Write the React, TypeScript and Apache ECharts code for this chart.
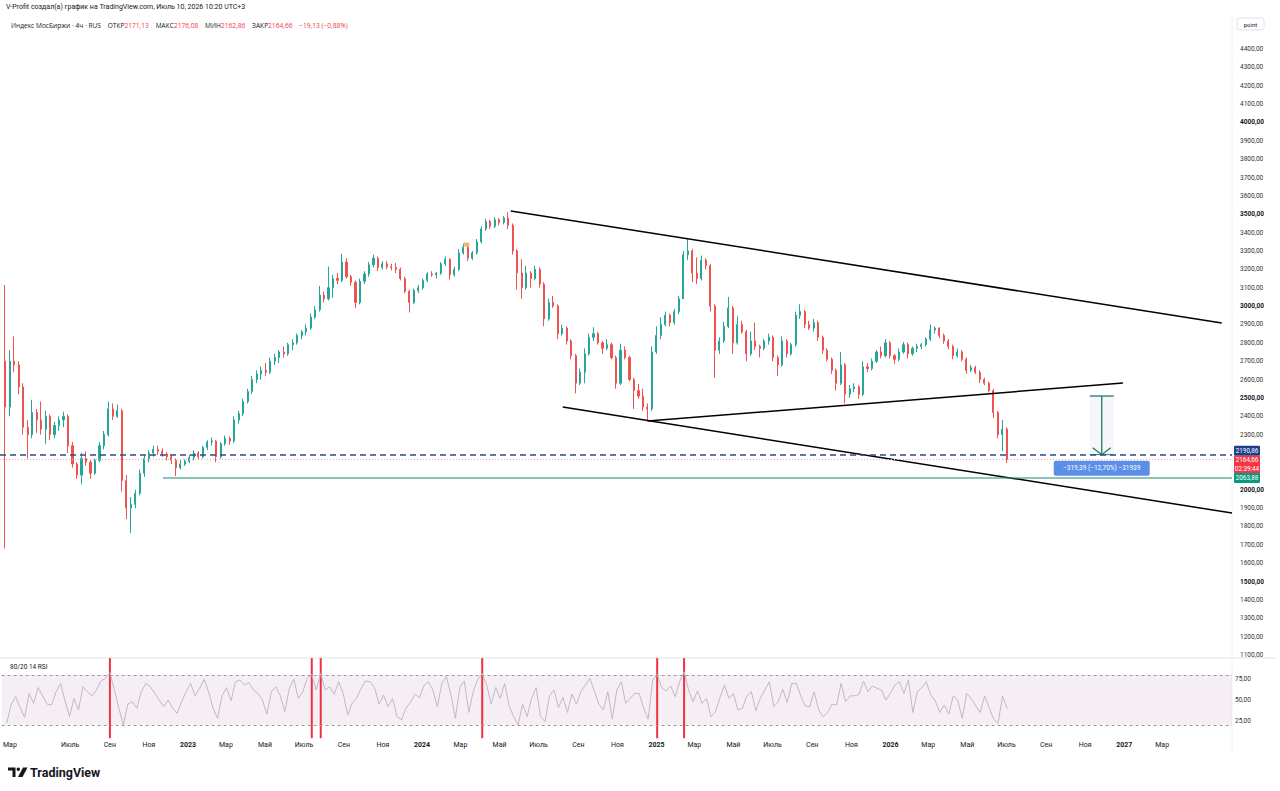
import React, { useEffect, useRef } from 'react';
import * as echarts from 'echarts';

// ---------- DATA ----------
const FIRST_WEEK = '2022-03-24';
// weekly candles: [open, high, low, close]
const CANDLES: number[][] = [
  [2700,3115,1680,2450],[2450,2760,2400,2700],[2700,2835,2640,2680],[2680,2700,2520,2560],[2560,2580,2300,2340],
  [2340,2380,2170,2300],[2300,2490,2280,2420],[2420,2440,2310,2380],[2380,2480,2300,2330],[2330,2430,2250,2400],
  [2400,2410,2270,2300],[2300,2370,2280,2350],[2350,2400,2320,2380],[2380,2425,2340,2400],[2400,2410,2200,2240],
  [2240,2260,2120,2140],[2140,2150,2060,2080],[2080,2200,2030,2170],[2170,2210,2130,2150],[2150,2160,2060,2090],
  [2090,2170,2080,2160],[2160,2260,2150,2240],[2240,2320,2220,2300],[2300,2480,2290,2440],[2440,2470,2380,2400],
  [2400,2465,2390,2430],[2430,2440,1990,2050],[2050,2080,1840,1900],[1900,1960,1765,1920],[1920,2000,1900,1980],
  [1980,2110,1970,2090],[2090,2185,2070,2170],[2170,2215,2150,2200],[2200,2240,2180,2220],[2220,2240,2190,2210],
  [2210,2225,2180,2195],[2195,2205,2160,2180],[2180,2190,2140,2160],[2160,2170,2075,2120],[2120,2160,2110,2140],
  [2140,2165,2130,2155],[2155,2190,2145,2175],[2175,2215,2160,2200],[2200,2210,2165,2180],[2180,2240,2170,2230],
  [2230,2270,2215,2260],[2260,2285,2240,2265],[2265,2270,2150,2180],[2180,2260,2170,2250],[2250,2295,2240,2280],
  [2280,2290,2245,2265],[2265,2400,2255,2380],[2380,2430,2360,2415],[2415,2495,2400,2480],[2480,2550,2470,2535],
  [2535,2620,2520,2600],[2600,2650,2580,2630],[2630,2670,2600,2650],[2650,2690,2620,2640],[2640,2720,2630,2700],
  [2700,2740,2680,2720],[2720,2760,2690,2750],[2750,2780,2720,2740],[2740,2800,2730,2790],[2790,2820,2760,2800],
  [2800,2850,2790,2840],[2840,2870,2820,2860],[2860,2900,2840,2880],[2880,2960,2870,2940],[2940,3000,2930,2980],
  [2980,3110,2970,3060],[3060,3080,3020,3040],[3040,3215,3030,3100],[3100,3170,3045,3150],[3150,3180,3120,3140],
  [3140,3285,3130,3240],[3240,3260,3150,3160],[3160,3170,3110,3130],[3130,3140,2990,3020],[3020,3150,3010,3135],
  [3135,3190,3120,3175],[3175,3240,3160,3225],[3225,3280,3210,3260],[3260,3270,3190,3210],[3210,3245,3200,3230],
  [3230,3245,3200,3215],[3215,3230,3195,3210],[3210,3235,3180,3200],[3200,3210,3140,3150],[3150,3160,3070,3080],
  [3080,3090,2965,3020],[3020,3095,3010,3085],[3085,3115,3070,3100],[3100,3150,3090,3140],[3140,3185,3130,3175],
  [3175,3190,3160,3170],[3170,3185,3150,3180],[3180,3240,3170,3230],[3230,3270,3220,3255],[3255,3260,3145,3170],
  [3170,3215,3160,3200],[3200,3310,3190,3290],[3290,3340,3280,3320],[3320,3330,3245,3260],[3260,3300,3250,3290],
  [3290,3365,3280,3350],[3350,3435,3340,3420],[3420,3475,3410,3460],[3460,3470,3420,3435],[3435,3485,3425,3470],
  [3470,3480,3440,3455],[3455,3490,3445,3480],[3480,3512,3420,3440],[3440,3450,3280,3300],[3300,3310,3090,3180],
  [3180,3255,3040,3100],[3100,3220,3090,3180],[3180,3190,3100,3150],[3150,3220,3140,3200],[3200,3210,3100,3120],
  [3120,3130,2890,2930],[2930,3040,2920,3020],[3020,3055,2990,3000],[3000,3010,2820,2850],[2850,2900,2840,2880],
  [2880,2890,2790,2810],[2810,2820,2710,2730],[2730,2740,2525,2580],[2580,2660,2570,2640],[2640,2770,2580,2740],
  [2740,2850,2730,2830],[2830,2885,2810,2850],[2850,2860,2790,2800],[2800,2810,2740,2770],[2770,2820,2760,2790],
  [2790,2800,2710,2720],[2720,2730,2550,2580],[2580,2795,2570,2760],[2760,2780,2710,2720],[2720,2730,2590,2600],
  [2600,2610,2440,2540],[2540,2575,2495,2510],[2510,2550,2430,2450],[2450,2470,2375,2440],[2440,2780,2430,2750],
  [2750,2890,2740,2840],[2840,2940,2820,2900],[2900,2970,2890,2950],[2950,2960,2890,2910],[2910,2985,2900,2970],
  [2970,3055,2955,3040],[3040,3300,3040,3280],[3280,3365,3250,3300],[3300,3310,3130,3180],[3180,3265,3120,3150],
  [3150,3275,3140,3250],[3250,3260,3200,3220],[3220,3230,2970,3000],[3000,3010,2610,2760],[2760,2830,2740,2810],
  [2810,2915,2800,2890],[2890,3050,2880,2990],[2990,3000,2740,2800],[2800,2945,2790,2900],[2900,2920,2850,2860],
  [2860,2870,2700,2740],[2740,2860,2730,2810],[2810,2910,2760,2780],[2780,2790,2720,2770],[2770,2820,2760,2810],
  [2810,2850,2790,2830],[2830,2840,2700,2720],[2720,2730,2620,2680],[2680,2835,2670,2810],[2810,2820,2720,2740],
  [2740,2800,2730,2790],[2790,2970,2780,2950],[2950,3010,2930,2970],[2970,2980,2880,2900],[2900,2920,2870,2880],
  [2880,2930,2860,2910],[2910,2920,2810,2830],[2830,2840,2740,2760],[2760,2770,2700,2710],[2710,2720,2630,2650],
  [2650,2660,2540,2580],[2580,2750,2570,2680],[2680,2690,2470,2520],[2520,2570,2500,2550],[2550,2580,2530,2560],
  [2560,2570,2495,2520],[2520,2700,2510,2670],[2670,2690,2640,2660],[2660,2715,2650,2700],[2700,2760,2690,2750],
  [2750,2780,2715,2730],[2730,2820,2720,2800],[2800,2810,2715,2730],[2730,2740,2685,2710],[2710,2770,2700,2750],
  [2750,2805,2740,2790],[2790,2800,2715,2740],[2740,2780,2730,2770],[2770,2795,2750,2780],[2780,2800,2765,2790],
  [2790,2830,2780,2820],[2820,2900,2810,2870],[2870,2890,2850,2880],[2880,2885,2825,2840],[2840,2850,2795,2810],
  [2810,2820,2765,2780],[2780,2790,2710,2730],[2730,2770,2720,2750],[2750,2760,2700,2710],[2710,2720,2630,2650],
  [2650,2680,2640,2665],[2665,2675,2630,2640],[2640,2650,2580,2600],[2600,2610,2570,2580],[2580,2590,2530,2540],
  [2540,2550,2390,2420],[2420,2430,2280,2300],[2300,2380,2210,2330],[2330,2340,2145,2164.66],
];
const RSI: number[] = [
  22,45,54,41,29,58,46,65,55,45, 44,60,70,49,30,52,38,66,60,55,
  62,73,76,83,62,40,20,45,48,40, 60,70,66,58,50,42,50,40,34,48,
  60,70,55,64,75,60,40,28,55,65, 49,72,74,68,71,62,58,50,33,60,
  66,55,36,64,75,52,60,76,81,62, 82,62,66,57,72,58,32,46,52,64,
  73,72,65,45,56,42,52,30,26,40, 47,57,53,67,72,62,42,70,78,57,
  28,65,73,35,60,75,82,68,45,65, 52,70,43,30,20,45,30,52,65,30,
  24,55,62,41,53,35,57,45,60,68, 76,61,45,38,60,27,62,72,46,52,
  58,58,40,27,74,81,65,61,67,54, 72,84,62,48,61,46,52,30,36,53,
  68,52,58,38,40,55,60,37,52,62, 72,42,48,63,47,70,70,55,43,42,
  60,38,30,35,45,44,70,48,55,55, 57,73,60,67,64,62,50,58,68,72,
  58,74,35,60,65,72,56,49,35,44, 33,55,50,28,58,52,43,35,55,41,
  27,22,55,40,
];
const X_START = '2022-03-16';
const X_END = '2027-06-18';
const PRICE_MIN = 1000;
const PRICE_MAX = 4600;
const PRICE_LABEL_RANGE = [1100, 4400];
const RSI_LABELS = [25, 50, 75];
const RSI_BAND = [20, 80];
const X_LABELS: [string, string][] = [
  ['2022-03-29','Мар'],['2022-07-01','Июль'],['2022-09-01','Сен'],['2022-11-01','Ноя'],
  ['2023-01-01','2023'],['2023-03-01','Мар'],['2023-05-01','Май'],['2023-07-01','Июль'],['2023-09-01','Сен'],['2023-11-01','Ноя'],
  ['2024-01-01','2024'],['2024-03-01','Мар'],['2024-05-01','Май'],['2024-07-01','Июль'],['2024-09-01','Сен'],['2024-11-01','Ноя'],
  ['2025-01-01','2025'],['2025-03-01','Мар'],['2025-05-01','Май'],['2025-07-01','Июль'],['2025-09-01','Сен'],['2025-11-01','Ноя'],
  ['2026-01-01','2026'],['2026-03-01','Мар'],['2026-05-01','Май'],['2026-07-01','Июль'],['2026-09-01','Сен'],['2026-11-01','Ноя'],
  ['2027-01-01','2027'],['2027-03-01','Мар'],
];
const TREND_LINES: [string, number][][] = [
  [['2024-05-20', 3518], ['2027-06-02', 2908]],
  [['2024-08-09', 2450], ['2027-06-18', 1873]],
  [['2024-12-19', 2374], ['2026-12-30', 2581]],
];
const DASHED_LEVEL = 2190.86;
const LAST_PRICE = 2164.66;
const GREEN_LEVEL = 2063.88;
const GREEN_START = '2022-11-25';
const RANGE_DATE = '2026-11-27';
const RANGE_TOP = 2510.25;
const RANGE_LABEL = '−319,39 (−12,70%) −31939';
const MARKER: [string, number] = ['2024-03-12', 3335];
const TIMER = '02:39:44';
const HEADER_1 = 'V-Profit создал(а) график на TradingView.com, Июль 10, 2026 10:20 UTC+3';
const SYMBOL = 'Индекс МосБиржи · 4ч · RUS';
const OHLC: [string, string][] = [['ОТКР', '2171,13'], ['МАКС', '2176,08'], ['МИН', '2162,86'], ['ЗАКР', '2164,66']];
const CHANGE = '−19,13 (−0,88%)';

// ---------- STYLE ----------
const UP = '#26a69a';
const DOWN = '#ef5350';
const FONT = 'Roboto, "Noto Sans", sans-serif';
const HEAD_FONT = '"Open Sans", Roboto, sans-serif';
const HEAD_SIZE = 6.6;
const TXT = '#131722';

const DAY = 86400000;
const ts = (d: string) => Date.parse(d + 'T00:00:00Z');
const fmt = (v: number) => v.toFixed(2).replace('.', ',');
const TAG_LEVELS = [DASHED_LEVEL, LAST_PRICE, GREEN_LEVEL];

export default function App() {
  const ref = useRef<HTMLDivElement>(null);
  useEffect(() => {
    if (!ref.current) return;
    const chart = echarts.init(ref.current, undefined, { renderer: 'svg' });
    const t0 = ts(FIRST_WEEK);
    const dates = CANDLES.map((_, i) => t0 + i * 7 * DAY);
    const xMin = ts(X_START);
    const xMax = ts(X_END);
    const labelMap = new Map(X_LABELS.map(([d, l]) => [ts(d), l]));

    const option: any = {
      animation: false,
      backgroundColor: '#ffffff',
      textStyle: { fontFamily: FONT },
      grid: [
        { left: 0, right: 48, top: 12.27, height: 661.09 },
        { left: 0, right: 48, top: 658.1, height: 80.1 },
      ],
      xAxis: [
        { type: 'value', gridIndex: 0, min: xMin, max: xMax, show: false },
        {
          type: 'value', gridIndex: 1, min: xMin, max: xMax,
          axisLine: { show: false }, axisTick: { show: false }, splitLine: { show: false },
          axisLabel: {
            customValues: X_LABELS.map(([d]) => ts(d)),
            margin: 3, fontSize: 7, color: TXT, fontFamily: FONT,
            formatter: (v: number) => {
              const l = labelMap.get(v) || '';
              return /^\d{4}$/.test(l) ? '{y|' + l + '}' : l;
            },
            rich: { y: { fontSize: 7, fontWeight: 'bold', color: TXT, fontFamily: FONT } },
          },
        },
      ],
      yAxis: [
        {
          type: 'value', gridIndex: 0, position: 'right', min: PRICE_MIN, max: PRICE_MAX, interval: 100,
          axisLine: { show: false }, axisTick: { show: false }, splitLine: { show: false },
          axisLabel: {
            margin: 8, fontSize: 6.5, color: '#333', fontFamily: FONT,
            formatter: (v: number) => {
              if (v < PRICE_LABEL_RANGE[0] || v > PRICE_LABEL_RANGE[1]) return '';
              if (TAG_LEVELS.some((t) => Math.abs(t - v) < 50)) return '';
              return v % 500 === 0 ? '{b|' + fmt(v) + '}' : fmt(v);
            },
            rich: { b: { fontSize: 6.5, fontWeight: 'bold', color: TXT, fontFamily: FONT } },
          },
        },
        {
          type: 'value', gridIndex: 1, position: 'right', min: 4, max: 100.5,
          axisLine: { show: false }, axisTick: { show: false }, splitLine: { show: false },
          axisLabel: { customValues: RSI_LABELS, margin: 3, fontSize: 6.5, color: '#333', fontFamily: FONT, formatter: (v: number) => fmt(v) },
        },
      ],
      series: [
        {
          type: 'candlestick', xAxisIndex: 0, yAxisIndex: 0,
          data: CANDLES.map((c, i) => [dates[i], c[0], c[3], c[2], c[1]]),
          encode: { x: 0, y: [1, 2, 3, 4] },
          barWidth: 1.6,
          itemStyle: { color: UP, color0: DOWN, borderColor: UP, borderColor0: DOWN, borderWidth: 1 },
          markLine: {
            silent: true, symbol: 'none', label: { show: false },
            data: [
              { yAxis: DASHED_LEVEL, lineStyle: { color: '#2c4c8c', type: [6, 4], width: 1.5 } },
              { yAxis: LAST_PRICE, lineStyle: { color: '#f5a3a8', type: [1, 2], width: 1 } },
            ],
          },
        },
        ...TREND_LINES.map((tl) => ({
          type: 'line', xAxisIndex: 0, yAxisIndex: 0, symbol: 'none', silent: true,
          data: tl.map(([d, p]) => [ts(d), p]),
          lineStyle: { color: '#000000', width: 1.5 },
        })),
        {
          type: 'line', xAxisIndex: 0, yAxisIndex: 0, symbol: 'none', silent: true,
          data: [[ts(GREEN_START), GREEN_LEVEL], [xMax, GREEN_LEVEL]],
          lineStyle: { color: '#1a8a7a', width: 1.2 },
        },
        {
          type: 'scatter', xAxisIndex: 0, yAxisIndex: 0, silent: true,
          symbol: 'roundRect', symbolSize: [6, 4],
          data: [[ts(MARKER[0]), MARKER[1]]],
          itemStyle: { color: '#f5a142' },
        },
        {
          type: 'line', xAxisIndex: 1, yAxisIndex: 1, symbol: 'none', silent: true,
          data: RSI.map((v, i) => [dates[i], v]),
          lineStyle: { color: '#c2b7c8', width: 1 },
          markArea: {
            silent: true,
            itemStyle: { color: 'rgba(178, 120, 180, 0.13)' },
            data: [[{ yAxis: RSI_BAND[0] }, { yAxis: RSI_BAND[1] }]],
          },
          markLine: {
            silent: true, symbol: 'none', label: { show: false },
            lineStyle: { color: '#9a9a9a', type: [3, 3], width: 1 },
            data: [{ yAxis: RSI_BAND[1] }, { yAxis: RSI_BAND[0] }],
          },
        },
        {
          type: 'bar', xAxisIndex: 1, yAxisIndex: 1, silent: true, barWidth: 2,
          data: RSI.map((v, i) => [dates[i], v]).filter((p) => p[1] >= RSI_BAND[1]).map((p) => [p[0], 101]),
          itemStyle: { color: '#f0323f' },
        },
      ],
    };
    chart.setOption(option);

    const P = (x: number, y: number) => chart.convertToPixel({ seriesIndex: 0 }, [x, y]) as number[];
    const right = P(xMax, DASHED_LEVEL)[0];
    const yDash = P(xMax, DASHED_LEVEL)[1];
    const yGreen = P(xMax, GREEN_LEVEL)[1];
    const top = P(ts(RANGE_DATE), RANGE_TOP);
    const bot = P(ts(RANGE_DATE), DASHED_LEVEL);
    const cx = top[0];
    const tagX = right + 2;
    const tagW = 26;
    const smallText = (text: string, x: number, y: number, fill: string, extra: any = {}) => ({
      type: 'text', x, y, silent: true,
      style: { text, fill, fontSize: 6.3, fontFamily: FONT, align: 'center', verticalAlign: 'middle', ...extra },
    });
    const header2 =
      '{n|' + SYMBOL + '}    ' +
      OHLC.map(([l, v]) => '{n|' + l + '}{v|' + v + '}').join('    ') +
      '    {v|' + CHANGE + '}';

    const graphics: any[] = [
      // header
      { type: 'text', x: 6, y: 7, silent: true, style: { text: HEADER_1, fill: TXT, fontSize: 7, fontFamily: FONT, verticalAlign: 'middle' } },
      {
        type: 'text', x: 11, y: 25, silent: true,
        style: {
          text: header2, fontSize: HEAD_SIZE, fontFamily: HEAD_FONT, verticalAlign: 'middle',
          rich: { n: { fill: TXT, fontSize: HEAD_SIZE, fontFamily: HEAD_FONT }, v: { fill: '#f23645', fontSize: HEAD_SIZE, fontFamily: HEAD_FONT } },
        },
      },
      // "point" unit box
      { type: 'rect', silent: true, shape: { x: 1237, y: 18, width: 27, height: 12, r: 2 }, style: { fill: '#fff', stroke: '#e0e3eb', lineWidth: 1 } },
      smallText('point', 1250.5, 24, TXT, { fontSize: 6 }),
      // pane separators
      { type: 'line', silent: true, shape: { x1: 0, y1: 658, x2: 1276, y2: 658 }, style: { stroke: '#e0e3eb', lineWidth: 1 } },
      { type: 'line', silent: true, shape: { x1: right, y1: 14, x2: right, y2: 752 }, style: { stroke: '#f0f2f5', lineWidth: 1 } },
      // RSI title
      { type: 'text', x: 10, y: 667, silent: true, style: { text: '80/20 14 RSI', fill: TXT, fontSize: 6.5, fontFamily: FONT, verticalAlign: 'middle' } },
      // price range measurement
      { type: 'rect', silent: true, shape: { x: cx - 12, y: top[1], width: 24, height: bot[1] - top[1] }, style: { fill: 'rgba(120,140,180,0.07)' } },
      { type: 'line', silent: true, shape: { x1: cx - 12, y1: top[1], x2: cx + 12, y2: top[1] }, style: { stroke: '#1f7a6c', lineWidth: 1.3 } },
      { type: 'line', silent: true, shape: { x1: cx, y1: top[1], x2: cx, y2: bot[1] }, style: { stroke: '#1f7a6c', lineWidth: 1.3 } },
      { type: 'polyline', silent: true, shape: { points: [[cx - 9, bot[1] - 7], [cx, bot[1]], [cx + 9, bot[1] - 7]] }, style: { stroke: '#1f7a6c', lineWidth: 1.3, fill: 'none' } },
      { type: 'line', silent: true, shape: { x1: cx - 12, y1: bot[1], x2: cx + 12, y2: bot[1] }, style: { stroke: '#1f7a6c', lineWidth: 1 } },
      { type: 'rect', silent: true, shape: { x: cx - 48, y: bot[1] + 6, width: 96, height: 15, r: 2 }, style: { fill: '#5b8ee6' } },
      smallText(RANGE_LABEL, cx, bot[1] + 13.5, '#ffffff', { fontSize: 6.5 }),
      // price tags
      { type: 'rect', silent: true, shape: { x: tagX, y: yDash - 9, width: tagW, height: 10, r: 1 }, style: { fill: '#1e3e8c' } },
      smallText(fmt(DASHED_LEVEL), tagX + tagW / 2, yDash - 4, '#ffffff'),
      { type: 'rect', silent: true, shape: { x: tagX, y: yDash + 1, width: tagW, height: 18, r: 1 }, style: { fill: '#f23645' } },
      smallText(fmt(LAST_PRICE), tagX + tagW / 2, yDash + 5.5, '#ffffff'),
      smallText(TIMER, tagX + tagW / 2, yDash + 14, '#ffffff'),
      { type: 'rect', silent: true, shape: { x: tagX, y: yGreen - 5, width: tagW, height: 10, r: 1 }, style: { fill: '#089981' } },
      smallText(fmt(GREEN_LEVEL), tagX + tagW / 2, yGreen, '#ffffff'),
      // TradingView logo
      { type: 'polygon', silent: true, shape: { points: [[8, 767.5], [15.5, 767.5], [15.5, 777], [12.5, 777], [12.5, 770.5], [8, 770.5]] }, style: { fill: TXT } },
      { type: 'circle', silent: true, shape: { cx: 18.3, cy: 769.2, r: 1.7 }, style: { fill: TXT } },
      { type: 'polygon', silent: true, shape: { points: [[23, 767.5], [27.5, 767.5], [22.5, 777], [18, 777]] }, style: { fill: TXT } },
      { type: 'text', x: 30, y: 772.5, silent: true, style: { text: 'TradingView', fill: TXT, fontSize: 12.5, fontWeight: 'bold', fontFamily: FONT, verticalAlign: 'middle' } },
    ];
    chart.setOption({ graphic: graphics });

    return () => chart.dispose();
  }, []);
  return (
    <div style={{ position: 'fixed', left: 0, top: 0, width: 1280, height: 791, background: '#fff' }}>
      <div ref={ref} style={{ width: 1280, height: 791 }} />
    </div>
  );
}
